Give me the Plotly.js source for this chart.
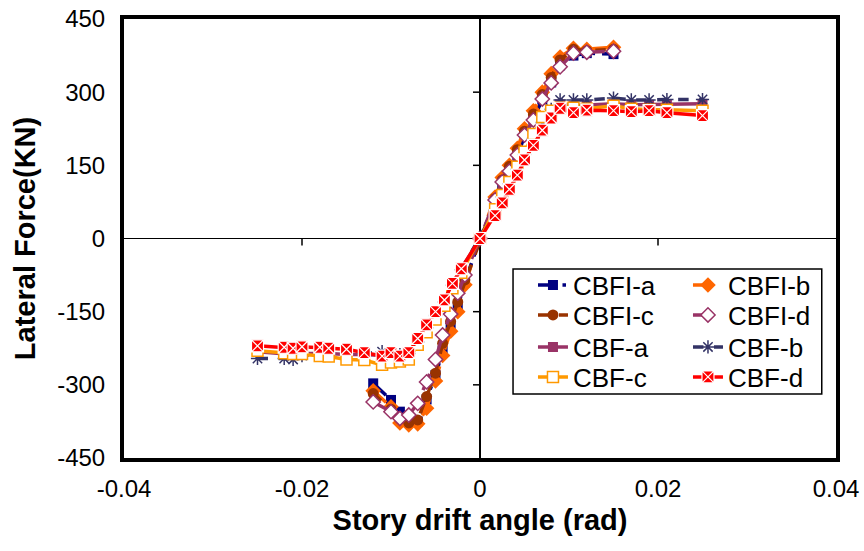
<!DOCTYPE html>
<html>
<head>
<meta charset="utf-8">
<script src="https://cdn.plot.ly/plotly-3.0.1.min.js"></script>
<style>html,body{margin:0;padding:0;background:#fff;}#chart{width:864px;height:551px;}</style>
</head>
<body>
<div id="chart"></div>
<script>
// ---- Data ----
var seriesNames = ['CBFI-a','CBFI-b','CBFI-c','CBFI-d','CBF-a','CBF-b','CBF-c','CBF-d'];

// drift angles (rad) for the CBFI specimens
var xCBFI = [-0.012,-0.010,-0.009,-0.008,-0.007,-0.006,-0.005,-0.0042,-0.0033,-0.0025,-0.0017,0,
             0.0017,0.0025,0.0033,0.0042,0.005,0.006,0.007,0.008,0.009,0.0105,0.012,0.015];
// drift angles (rad) for the CBF specimens
var xCBF = [-0.025,-0.022,-0.021,-0.020,-0.018,-0.017,-0.015,-0.013,-0.011,-0.010,-0.009,-0.008,
            -0.007,-0.006,-0.005,-0.004,-0.0031,-0.0021,0,
            0.0017,0.0025,0.0033,0.0042,0.005,0.006,0.007,0.008,0.009,0.0105,0.012,0.015,0.017,0.019,0.021,0.025];

// lateral force (kN)
var fCBFIa = [-297,-331,-355,-372,-375,-330,-280,-230,-178,-140,-90,0,75,110,135,170,210,245,285,320,355,375,380,378];
var fCBFIb = [-312,-345,-378,-382,-380,-348,-292,-240,-190,-150,-95,0,85,125,150,185,225,262,300,338,372,390,388,392];
var fCBFIc = [-318,-350,-370,-378,-372,-324,-276,-215,-170,-130,-85,0,82,120,148,182,220,255,295,330,366,388,385,388];
var fCBFId = [-335,-355,-369,-362,-338,-294,-248,-198,-155,-112,-75,0,79,116,138,171,212,243,286,319,352,380,382,384];

var fCBFa = [-232,-236,-238,-236,-236,-236,-238,-238,-240,-238,-240,-236,-210,-182,-156,-128,-95,-62,0,
             58,85,112,142,172,205,238,262,275,272,273,276,274,274,275,276];
var fCBFb = [-246,-246,-248,-240,-236,-236,-236,-236,-232,-236,-238,-236,-212,-183,-158,-130,-96,-64,0,
             58,85,112,142,172,205,238,265,284,284,284,288,284,284,285,285];
var fCBFc = [-230,-235,-237,-237,-241,-242,-248,-249,-259,-254,-252,-248,-218,-192,-166,-138,-102,-70,0,
             60,89,116,147,178,214,249,262,268,268,266,272,266,264,264,262];
var fCBFd = [-220,-223,-225,-222,-223,-225,-227,-234,-241,-234,-241,-234,-205,-177,-150,-126,-92,-62,0,
             47,73,101,130,161,191,222,247,267,258,263,262,260,262,258,252];

var xTickVals = [-0.04,-0.02,0,0.02,0.04];
var xTickText = ['-0.04','-0.02','0','0.02','0.04'];
var yTickVals = [-450,-300,-150,0,150,300,450];
var yTickText = ['-450','-300','-150','0','150','300','450'];

// ---- Styles ----
var FONT = 'Liberation Sans, Arial, sans-serif';
var styles = [
  {color:'#000080', dash:'longdashdot', symbol:'square', mcolor:'#000080', lcolor:'#000080', size:10},
  {color:'#FF6600', dash:'longdash', symbol:'diamond', mcolor:'#FF6600', lcolor:'#FF6600', size:12},
  {color:'#993300', dash:'dash', symbol:'circle', mcolor:'#993300', lcolor:'#993300', size:11},
  {color:'#993366', dash:'longdash', symbol:'diamond', mcolor:'#FFFFFF', lcolor:'#993366', size:11},
  {color:'#993366', dash:'solid', symbol:'square', mcolor:'#993366', lcolor:'#993366', size:10},
  {color:'#333366', dash:'dash', symbol:'asterisk-open', mcolor:'#333366', lcolor:'#4B4B7A', size:11},
  {color:'#FF9900', dash:'solid', symbol:'square', mcolor:'#FFFFFF', lcolor:'#FF9900', size:11},
  {color:'#FF0000', dash:'solid', symbol:'square-x', mcolor:'#FF0000', lcolor:'#FFFFFF', size:12}
];
var xs = [xCBFI,xCBFI,xCBFI,xCBFI,xCBF,xCBF,xCBF,xCBF];
var ys = [fCBFIa,fCBFIb,fCBFIc,fCBFId,fCBFa,fCBFb,fCBFc,fCBFd];

var traces = [];
for (var i = 0; i < seriesNames.length; i++) {
  var s = styles[i];
  traces.push({
    type:'scatter', mode:'lines+markers', name: seriesNames[i],
    x: xs[i], y: ys[i],
    legend: i === 0 ? 'legend' : 'legend' + (i + 1),
    line: {color: s.color, width: 3.5, dash: s.dash},
    marker: {symbol: s.symbol, size: s.size, color: s.mcolor,
             line: {color: s.lcolor, width: (s.symbol === 'square-x' ? 1.2 : (s.mcolor === '#FFFFFF' ? 1.5 : (s.symbol.indexOf('asterisk') === 0 ? 1.5 : 0)))}}
  });
}

// legend placement (paper coords): 2 columns x 4 rows
var legendCols = [0.5744, 0.7921];
var legendRows = [0.394, 0.3257, 0.2528, 0.1845];

var layout = {
  width: 864, height: 551,
  margin: {l:124, r:28, t:19, b:93, pad:0},
  paper_bgcolor:'#ffffff', plot_bgcolor:'#ffffff',
  font: {family: FONT, color:'#000000', size:24},
  showlegend: true,
  xaxis: {
    range:[-0.04,0.04], tickvals: xTickVals, ticktext: xTickText,
    showgrid:false, zeroline:true, zerolinecolor:'#000000', zerolinewidth:1.5,
    showline:true, linecolor:'#000000', linewidth:4, mirror:true,
    ticks:'', ticklabelstandoff: 6,
    tickfont:{family:FONT, size:24, color:'#000000'},
    title:{text:'Story drift angle (rad)', font:{family:FONT, size:29, weight:'bold', color:'#000000'}, standoff: 10}
  },
  yaxis: {
    range:[-450,450], tickvals: yTickVals, ticktext: yTickText,
    showgrid:false, zeroline:true, zerolinecolor:'#000000', zerolinewidth:1.5,
    showline:true, linecolor:'#000000', linewidth:4, mirror:true,
    ticks:'', ticklabelstandoff: 10,
    tickfont:{family:FONT, size:24, color:'#000000'},
    title:{text:'Lateral Force(KN)', font:{family:FONT, size:29, weight:'bold', color:'#000000'}, standoff: 14}
  },
  shapes: [
    {type:'rect', xref:'paper', yref:'paper', x0:0.5464, x1:0.980, y0:0.1458, y1:0.4305,
     line:{color:'#000000', width:1.5}, fillcolor:'#ffffff', layer:'above'}
  ]
};

// small tick marks on the zero axes (as in the original)
xTickVals.forEach(function(v){
  if (v === 0 || Math.abs(v) === 0.04) return;
  layout.shapes.push({type:'line', xref:'x', yref:'y', ysizemode:'pixel', yanchor:0,
    x0:v, x1:v, y0:0, y1:-7, line:{color:'#000000', width:1.5}, layer:'above'});
});
yTickVals.forEach(function(v){
  if (v === 0 || Math.abs(v) === 450) return;
  layout.shapes.push({type:'line', xref:'x', yref:'y', xsizemode:'pixel', xanchor:0,
    x0:-7, x1:0, y0:v, y1:v, line:{color:'#000000', width:1.5}, layer:'above'});
});

for (var k = 0; k < 8; k++) {
  var key = k === 0 ? 'legend' : 'legend' + (k + 1);
  layout[key] = {
    x: legendCols[k % 2], y: legendRows[Math.floor(k / 2)],
    xref:'paper', yref:'paper', xanchor:'left', yanchor:'middle',
    bgcolor:'rgba(0,0,0,0)', borderwidth:0,
    font:{family:FONT, size:26, color:'#000000'},
    itemclick:false, itemdoubleclick:false
  };
}

Plotly.newPlot('chart', traces, layout, {displayModeBar:false, staticPlot:true});
</script>
</body>
</html>
